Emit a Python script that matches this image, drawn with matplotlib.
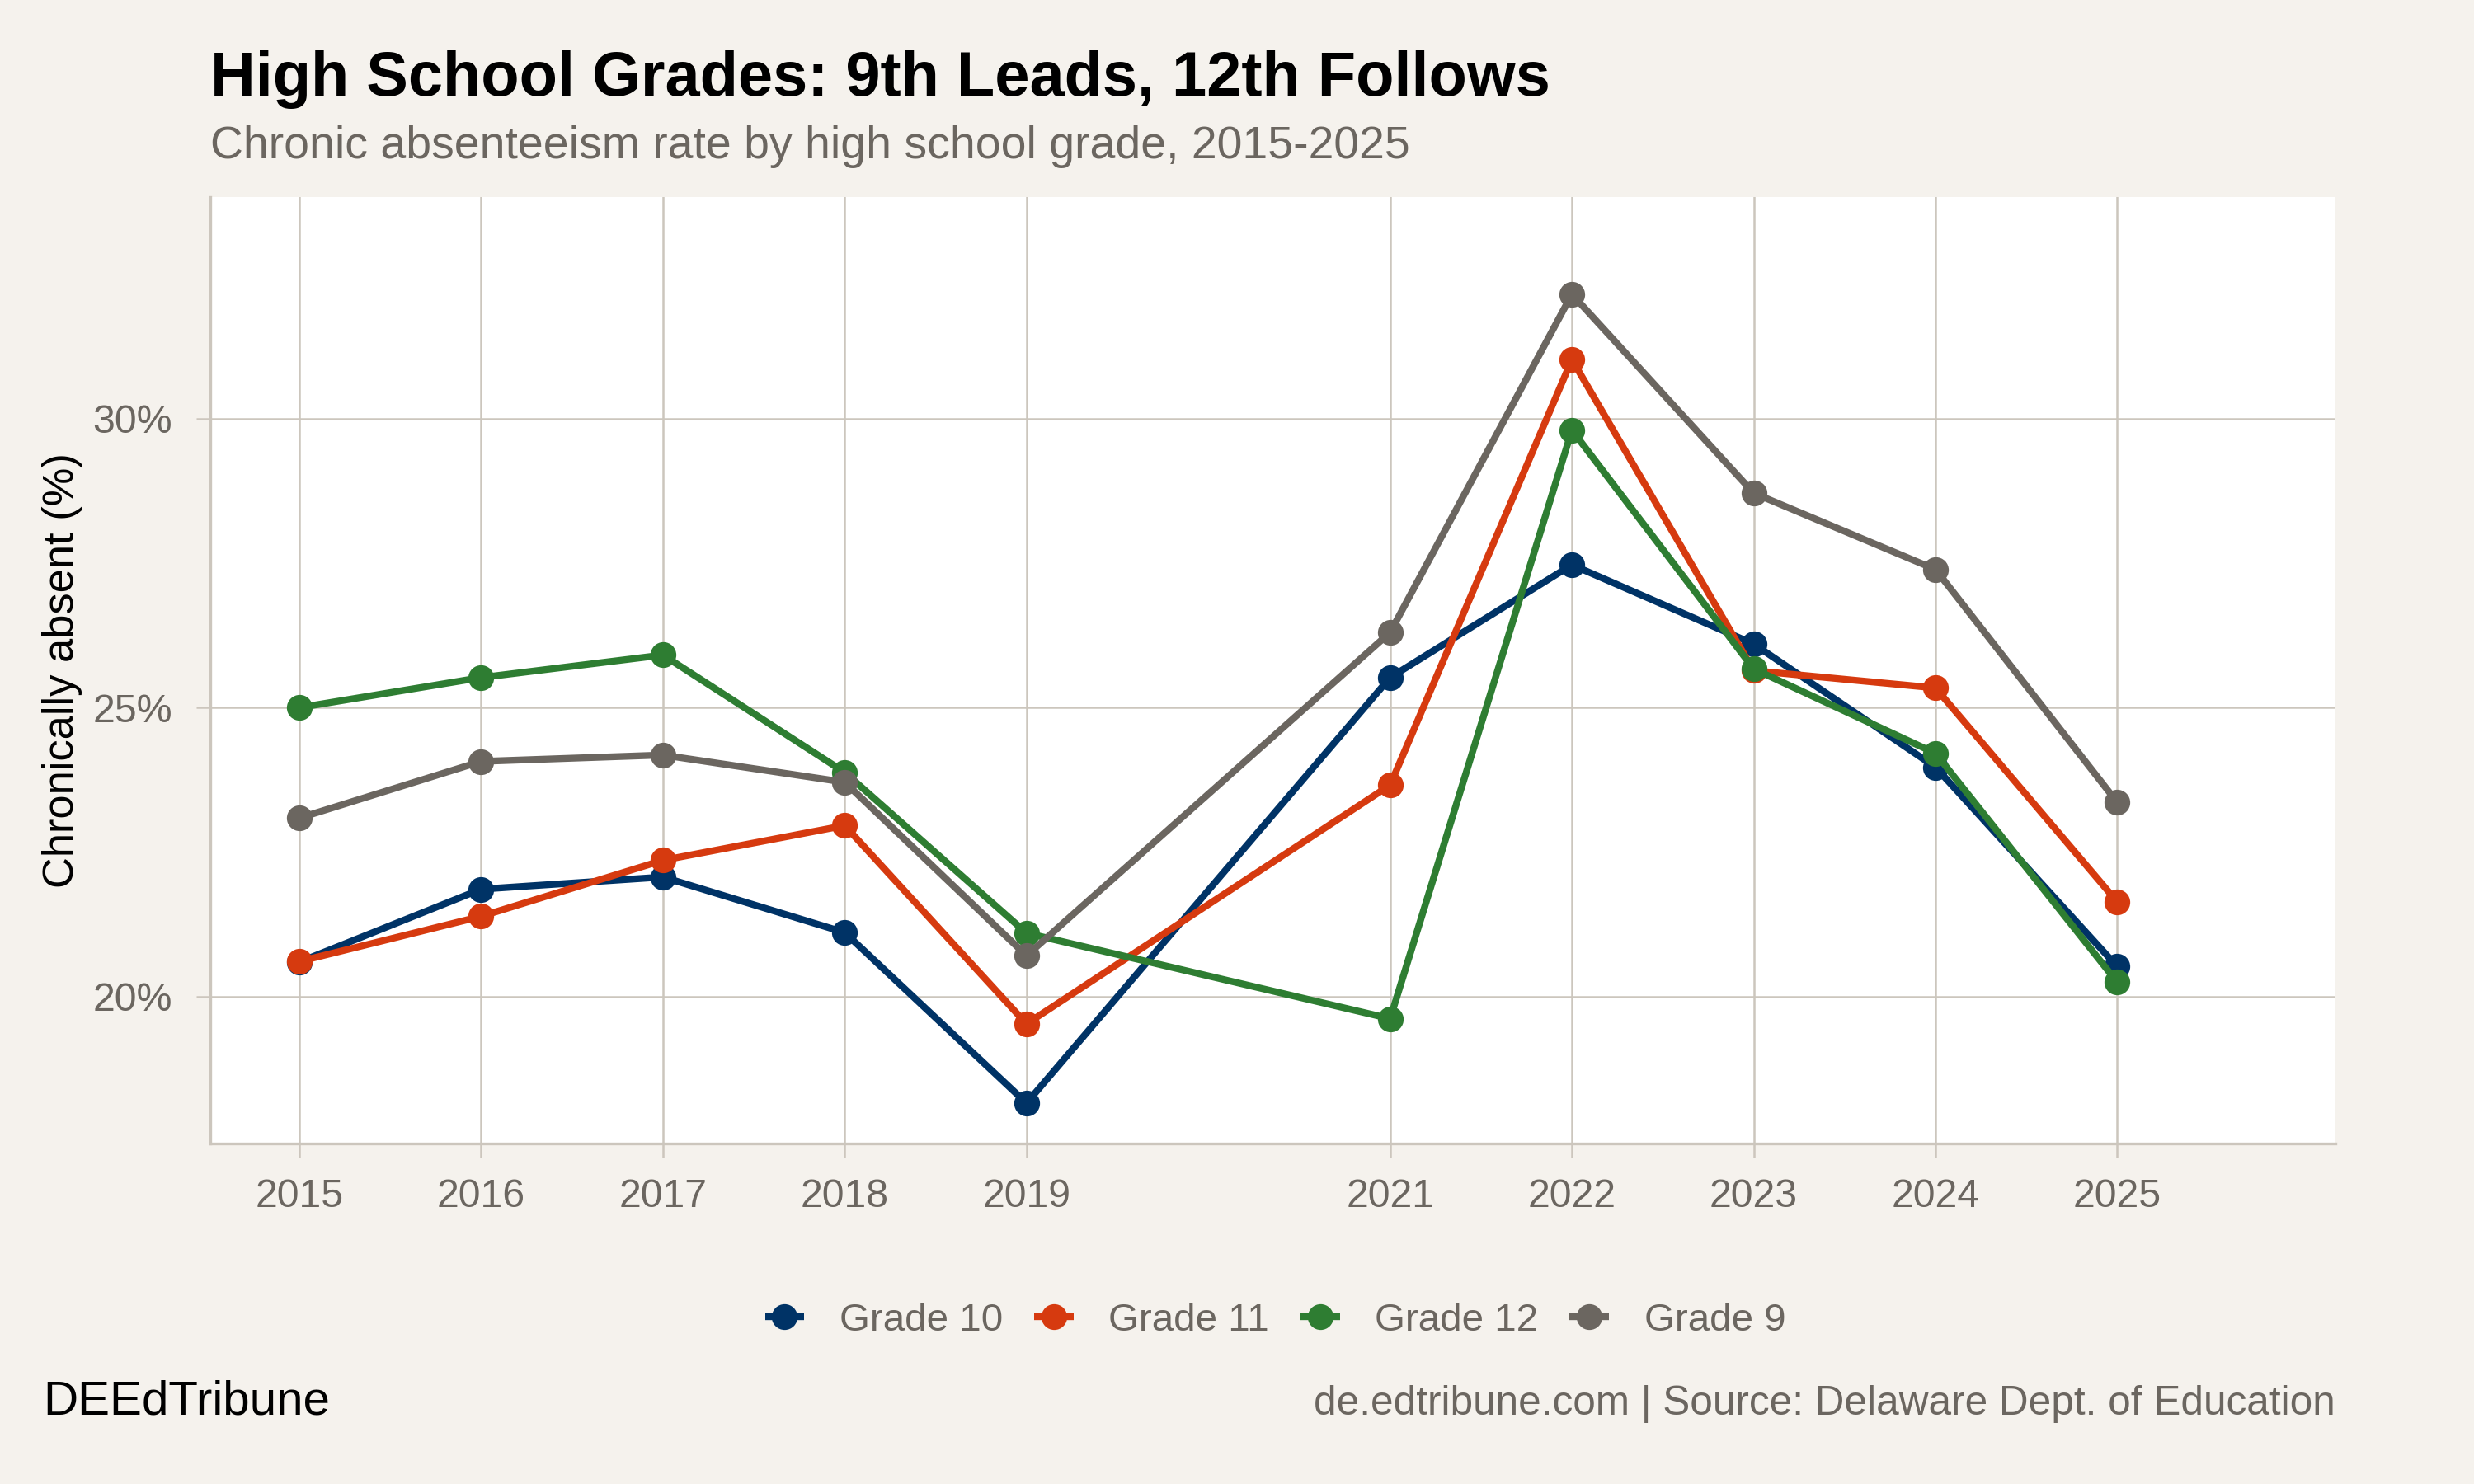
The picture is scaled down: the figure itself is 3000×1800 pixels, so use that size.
import matplotlib
matplotlib.use("Agg")
import matplotlib.pyplot as plt
from matplotlib.ticker import FuncFormatter

# data (chronic absenteeism %, no 2020 survey)
years = [2015, 2016, 2017, 2018, 2019, 2021, 2022, 2023, 2024, 2025]
grade_10 = [20.6, 21.86, 22.07, 21.11, 18.16, 25.52, 27.47, 26.10, 23.97, 20.52]
grade_11 = [20.61, 21.39, 22.36, 22.96, 19.53, 23.66, 31.02, 25.64, 25.34, 21.64]
grade_12 = [25.0, 25.52, 25.91, 23.88, 21.10, 19.62, 29.80, 25.67, 24.21, 20.25]
grade_9 = [23.09, 24.07, 24.18, 23.71, 20.71, 26.30, 32.15, 28.71, 27.39, 23.36]

series_names = ["Grade 10", "Grade 11", "Grade 12", "Grade 9"]
series_values = [grade_10, grade_11, grade_12, grade_9]
colors = ["#003366", "#D63A0F", "#2E7D32", "#6B6660"]
y_ticks = [20, 25, 30]

bg = "#F5F2ED"
grid_col = "#CCC6BD"
text_gray = "#6B6660"

plt.rcParams['font.family'] = ['Liberation Sans', 'DejaVu Sans']

fig = plt.figure(figsize=(10, 6), dpi=300, facecolor=bg)
ax = fig.add_axes([0.085, 0.2294, 0.859, 0.6378])
ax.set_facecolor("white")

for name, vals, col in zip(series_names, series_values, colors):
    ax.plot(years, vals, color=col, lw=2.0, marker="o", ms=6.5,
            solid_capstyle="butt", label=name)

ax.set_xlim(2014.51, 2026.2)
ax.set_ylim(17.46, 33.83)
ax.set_xticks(years)
ax.set_xticklabels([str(y) for y in years])
ax.set_yticks(y_ticks)
ax.yaxis.set_major_formatter(FuncFormatter(lambda v, p: "%d%%" % v))

ax.grid(True, color=grid_col, lw=0.6)
ax.set_axisbelow(True)
for side in ["top", "right"]:
    ax.spines[side].set_visible(False)
for side in ["left", "bottom"]:
    ax.spines[side].set_color(grid_col)
    ax.spines[side].set_linewidth(0.8)

ax.tick_params(axis="both", colors=grid_col, labelcolor=text_gray,
               labelsize=11.6, length=4, width=0.6)
ax.tick_params(axis="x", pad=6)
ax.tick_params(axis="y", pad=7)
ax.set_ylabel("Chronically absent (%)", fontsize=12.6, color="black", labelpad=3)

fig.text(0.085, 0.9356, "High School Grades: 9th Leads, 12th Follows",
         fontsize=18.2, fontweight="bold", color="black", ha="left", va="baseline")
fig.text(0.085, 0.8933, "Chronic absenteeism rate by high school grade, 2015-2025",
         fontsize=13.3, color=text_gray, ha="left", va="baseline")

leg = fig.legend(loc="center", bbox_to_anchor=(0.5155, 0.1100), ncol=4,
                 frameon=False, fontsize=11.4, handlelength=1.0,
                 handletextpad=0.9, columnspacing=0.8)
for t in leg.get_texts():
    t.set_color(text_gray)

fig.text(0.0173, 0.0467, "DEEdTribune", fontsize=14, color="black",
         ha="left", va="baseline")
fig.text(0.944, 0.0467, "de.edtribune.com | Source: Delaware Dept. of Education",
         fontsize=11.9, color=text_gray, ha="right", va="baseline")

fig.savefig("out.png", dpi=300, facecolor=bg)
